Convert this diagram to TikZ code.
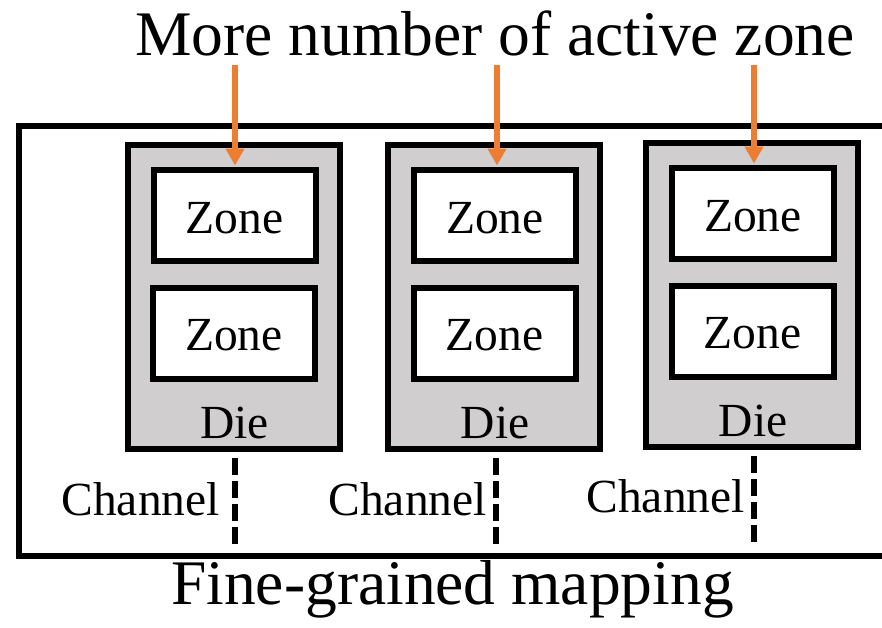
\documentclass[tikz,border=0pt]{standalone}
\usepackage{fontspec}
\setmainfont{Liberation Serif}
\usetikzlibrary{arrows.meta}
\definecolor{diegray}{HTML}{D0CECF}
\definecolor{hotorange}{HTML}{ED7D31}
\tikzset{
  diebox/.style={draw=black, line width=6pt, fill=diegray, inner sep=0pt,
                 minimum width=212pt, minimum height=304pt},
  zonebox/.style={draw=black, line width=6pt, fill=white, inner sep=0pt,
                  minimum width=162pt, minimum height=91pt},
  lbl/.style={inner sep=0pt, anchor=base, font=\fontsize{47.5}{50}\selectfont},
  big/.style={inner sep=0pt, anchor=base, font=\fontsize{63.5}{66}\selectfont},
  hot/.style={draw=hotorange, line width=5.5pt,
              -{Triangle[width=18pt,length=17pt,fill=hotorange]}},
  chan/.style={draw=black, line width=6pt, dash pattern=on 17pt off 6pt},
  frame/.style={draw=black, line width=6pt}
}
\begin{document}
\begin{tikzpicture}[x=1pt, y=-1pt]
  \useasboundingbox (0,0) rectangle (882,627);
  \clip (0,0) rectangle (882,627);

  % outer frame, open past the right edge
  \draw[frame] (18.5,126) rectangle (920,556);

  % dies with their two zones
  \foreach \n/\x/\y in {1/233.5/297, 2/494/297, 3/752/295}{
    \node[diebox] (d\n) at (\x,\y) {};
    \node[zonebox] (za\n) at (\x+1,\y-82) {};
    \node[zonebox] (zb\n) at (\x+0.5,\y+36.5) {};
    \node[lbl] (tza\n) at (\x+1,\y-64) {Zone};
    \node[lbl] (tzb\n) at (\x+0.5,\y+53) {Zone};
    \node[lbl] (td\n) at (\x+1,\y+141) {Die};
  }

  % channel lines below each die
  \coordinate (c1) at (235,545);
  \coordinate (c2) at (496,545);
  \coordinate (c3) at (754,543);
  \draw[chan] ([yshift=-6pt]d1.south -| c1) -- (c1);
  \draw[chan] ([yshift=-6pt]d2.south -| c2) -- (c2);
  \draw[chan] ([yshift=-6pt]d3.south -| c3) -- (c3);
  \node[lbl, anchor=base east] (ch1) at (220,515) {Channel};
  \node[lbl, anchor=base east] (ch2) at (487,515) {Channel};
  \node[lbl, anchor=base east] (ch3) at (745,512) {Channel};

  % headline and active-zone arrows
  \node[big] (title) at (495,55) {More number of active zone};
  \coordinate (a1) at (235,65);
  \coordinate (a2) at (497,65);
  \coordinate (a3) at (754,65);
  \draw[hot] (a1) -- ([yshift=1pt]za1.north -| a1);
  \draw[hot] (a2) -- ([yshift=1pt]za2.north -| a2);
  \draw[hot] (a3) -- ([yshift=1pt]za3.north -| a3);

  % caption
  \node[big] (cap) at (452.5,604) {Fine-grained mapping};
\end{tikzpicture}
\end{document}
